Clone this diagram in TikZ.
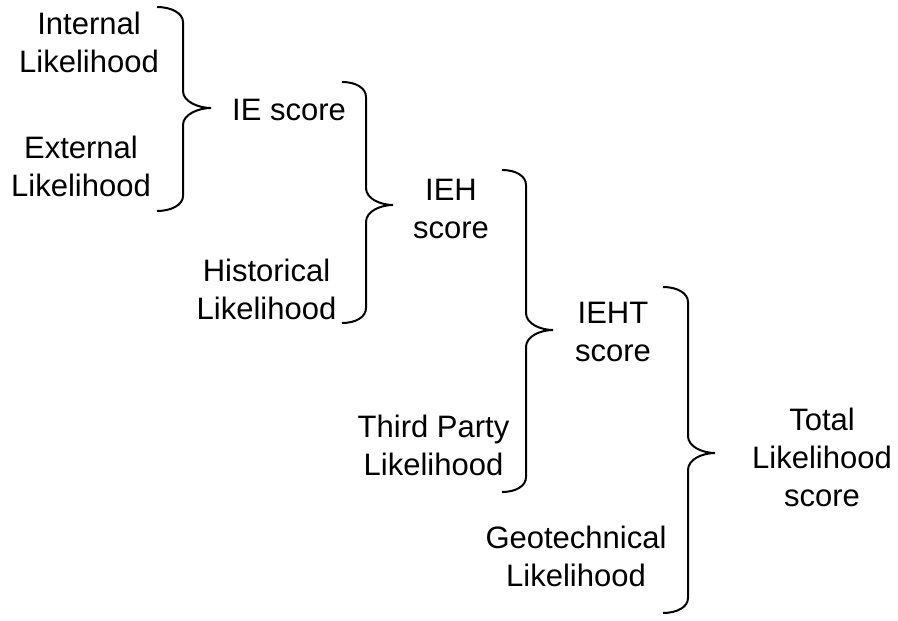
\documentclass[tikz,border=0pt]{standalone}
\usepackage{fontspec}
\setmainfont{Liberation Sans}
\tikzset{
  lbl/.style={font=\fontsize{31}{38}\selectfont, align=center, inner sep=0pt, anchor=center},
  bracestyle/.style={line width=2pt, line cap=butt, line join=miter}
}
% #1 x of ends, #2 x of vertical, #3 x of tip, #4 y top, #5 y tip, #6 y bottom
\newcommand\dobrace[6]{%
  \draw[bracestyle] (#1,#4) .. controls +(14,0) and +(0,-9) .. (#2,#4+15)
    -- (#2,#5-17) .. controls +(0,11) and +(-12,0) .. (#3,#5)
    .. controls +(-12,0) and +(0,-11) .. (#2,#5+17)
    -- (#2,#6-15) .. controls +(0,9) and +(14,0) .. (#1,#6);%
}
\begin{document}
\begin{tikzpicture}[x=1pt,y=-1pt]
  \useasboundingbox (0,0) rectangle (898,621);
  % labels
  \node[lbl] (internal) at (89,42.5) {Internal\\Likelihood};
  \node[lbl] (external) at (81,166.5) {External\\Likelihood};
  \node[lbl, anchor=base] (ie) at (289,120) {IE score};
  \node[lbl] (historical) at (266.5,289) {Historical\\Likelihood};
  \node[lbl] (ieh) at (451,209) {IEH\\score};
  \node[lbl] (third) at (433.5,445) {Third Party\\Likelihood};
  \node[lbl] (ieht) at (613,331.5) {IEHT\\score};
  \node[lbl] (geo) at (576,556.5) {Geotechnical\\Likelihood};
  \node[lbl] (total) at (822,457.5) {Total\\Likelihood\\score};
  % braces
  \dobrace{157}{183}{211}{7}{108}{211}
  \dobrace{342}{366}{393}{82}{205}{323}
  \dobrace{502}{526}{553}{170}{330}{492}
  \dobrace{663}{688}{715}{287}{453}{613}
\end{tikzpicture}
\end{document}
